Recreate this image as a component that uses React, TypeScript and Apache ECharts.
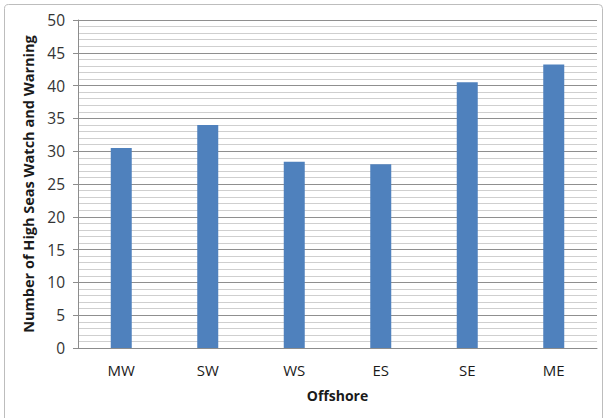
import React, { useEffect, useRef } from "react";
import * as echarts from "echarts";

const categories = ["MW", "SW", "WS", "ES", "SE", "ME"];
const counts = [30.5, 34.0, 28.4, 28.0, 40.5, 43.2];
const yTicks = [0, 5, 10, 15, 20, 25, 30, 35, 40, 45, 50];

const FONT = "'Open Sans', 'Liberation Sans', sans-serif";

export default function App() {
  const ref = useRef<HTMLDivElement>(null);

  useEffect(() => {
    if (!ref.current) return;
    const chart = echarts.init(ref.current, null, { renderer: "svg" });
    chart.setOption({
      animation: false,
      backgroundColor: "#ffffff",
      graphic: [
        {
          type: "rect",
          shape: { x: 4.5, y: 4.5, width: 598, height: 420, r: 4 },
          style: { fill: "none", stroke: "#bdbdbd", lineWidth: 1 },
          silent: true,
        },
      ],
      grid: { left: 78, right: 10, top: 20, bottom: 70 },
      xAxis: {
        type: "category",
        data: categories,
        name: "Offshore",
        nameLocation: "middle",
        nameGap: 40,
        nameTextStyle: { fontFamily: FONT, fontSize: 14, fontWeight: "bold", color: "#1a1a1a" },
        axisLine: { show: true, lineStyle: { color: "#8c8c8c", width: 1 } },
        axisTick: { show: false },
        axisLabel: { fontFamily: FONT, fontSize: 15, color: "#1a1a1a", margin: 14 },
      },
      yAxis: {
        type: "value",
        min: yTicks[0],
        max: yTicks[yTicks.length - 1],
        interval: 5,
        name: "Number of High Seas Watch and Warning",
        nameLocation: "middle",
        nameGap: 38,
        nameTextStyle: { fontFamily: FONT, fontSize: 14.5, fontWeight: "bold", color: "#1a1a1a" },
        axisLine: { show: true, lineStyle: { color: "#8c8c8c", width: 1 } },
        axisTick: { show: true, length: 5, lineStyle: { color: "#8c8c8c" } },
        axisLabel: { fontFamily: FONT, fontSize: 15.5, color: "#333333", margin: 13 },
        splitLine: { show: true, lineStyle: { color: "#8f8f8f", width: 1 } },
        minorTick: { show: false, splitNumber: 5 },
        minorSplitLine: { show: true, lineStyle: { color: "#cfcfcf", width: 1 } },
      },
      series: [
        {
          type: "bar",
          data: counts,
          barWidth: 21,
          itemStyle: { color: "#4f81bd" },
        },
      ],
    });
    return () => chart.dispose();
  }, []);

  return <div ref={ref} style={{ width: 607, height: 418, position: "absolute", left: 0, top: 0 }} />;
}
